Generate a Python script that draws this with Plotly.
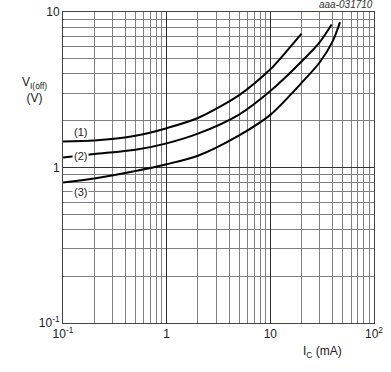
import math
import plotly.graph_objects as go

# Data
c1_x = [0.1, 0.2, 0.5, 1, 2, 5, 10, 12.4, 20]
c1_y = [1.47, 1.49, 1.60, 1.79, 2.08, 2.92, 4.28, 5.0, 7.27]
c2_x = [0.1, 0.2, 0.5, 1, 2, 5, 10, 20, 30, 39]
c2_y = [1.16, 1.22, 1.30, 1.43, 1.65, 2.19, 3.1, 4.8, 6.4, 8.3]
c3_x = [0.1, 0.2, 0.5, 1, 2, 5, 10, 20, 30, 40, 47]
c3_y = [0.80, 0.85, 0.95, 1.05, 1.19, 1.61, 2.18, 3.5, 4.75, 6.5, 8.6]

x_ticks = [0.1, 1, 10, 100]
x_ticktext = ["10<sup>-1</sup>", "1", "10", "10<sup>2</sup>"]
y_ticks = [0.1, 1, 10]
y_ticktext = ["10<sup>-1</sup>", "1", "10"]
curve_labels = ["(1)", "(2)", "(3)"]
label_x = [0.146, 0.146, 0.146]
label_y = [1.70, 1.19, 0.695]

minor_x = [m * d for d in [0.1, 1, 10] for m in range(2, 10)]
minor_y = [m * d for d in [0.1, 1] for m in range(2, 10)]

FONT = "Arial, Liberation Sans, sans-serif"

fig = go.Figure()
for xs, ys in [(c1_x, c1_y), (c2_x, c2_y), (c3_x, c3_y)]:
    fig.add_trace(go.Scatter(x=xs, y=ys, mode="lines",
                             line=dict(color="black", width=2, shape="spline", smoothing=0.8),
                             showlegend=False, hoverinfo="skip"))

for txt, lx, ly in zip(curve_labels, label_x, label_y):
    fig.add_annotation(x=math.log10(lx), y=math.log10(ly), xref="x", yref="y", text=txt,
                       showarrow=False, font=dict(family=FONT, size=11, color="#222"),
                       bgcolor="white", borderpad=1, xanchor="center", yanchor="middle")

axis_common = dict(type="log", showline=True, linecolor="#444", linewidth=1, mirror=True,
                   showgrid=True, gridcolor="#333", gridwidth=1, ticks="", zeroline=False,
                   automargin=False,
                   tickfont=dict(family=FONT, size=12, color="#222"))

fig.update_xaxes(range=[-1, 2], tickvals=x_ticks, ticktext=x_ticktext,
                 minor=dict(tickvals=minor_x, showgrid=True, gridcolor="#808080", gridwidth=1),
                 **axis_common)
fig.update_yaxes(range=[-1, 1], tickvals=y_ticks, ticktext=y_ticktext,
                 minor=dict(tickvals=minor_y, showgrid=True, gridcolor="#808080", gridwidth=1),
                 **axis_common)

fig.add_annotation(xref="paper", yref="paper", x=-0.093, y=0.75,
                   xanchor="center", yanchor="middle",
                   text="V<sub>I(off)</sub><br>(V)", showarrow=False, align="center",
                   font=dict(family=FONT, size=12, color="#222"))
fig.add_annotation(xref="paper", yref="paper", x=0.836, y=-0.093,
                   xanchor="center", yanchor="middle",
                   text="I<sub>C</sub> (mA)", showarrow=False,
                   font=dict(family=FONT, size=12, color="#222"))
fig.add_annotation(xref="paper", yref="paper", x=1.003, y=1.024,
                   xanchor="right", yanchor="middle",
                   text="<i>aaa-031710</i>", showarrow=False,
                   font=dict(family=FONT, size=10, color="#333"))

fig.update_layout(width=391, height=372, margin=dict(l=63, r=17, t=12, b=49),
                  plot_bgcolor="white", paper_bgcolor="white")
fig.write_html("out.html",
               config={"displayModeBar": False, "staticPlot": True},
               post_script="document.body.style.margin='0';"
                           "document.documentElement.style.overflow='hidden';")
